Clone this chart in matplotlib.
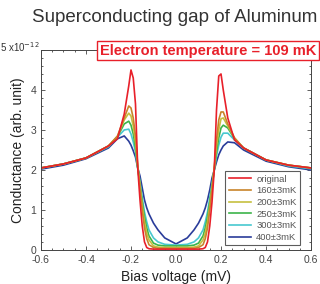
import matplotlib.pyplot as plt
from matplotlib.ticker import MultipleLocator
import numpy as np

plt.rcParams['font.family'] = ['Liberation Sans', 'DejaVu Sans']

# bias voltage (mV)
bias = [-0.6, -0.5, -0.4, -0.3, -0.26, -0.23, -0.21, -0.2, -0.19, -0.18, -0.17,
        -0.16, -0.15, -0.14, -0.13, -0.12, -0.1, -0.08, -0.05, 0.0,
        0.05, 0.08, 0.1, 0.12, 0.13, 0.14, 0.15, 0.16, 0.17, 0.18, 0.19,
        0.2, 0.21, 0.23, 0.26, 0.3, 0.4, 0.5, 0.6]

# conductance (x1e-12, arb. unit)
g_original = [2.05, 2.15, 2.3, 2.6, 2.78, 3.4, 4.1, 4.5, 4.3, 3.65, 2.05,
              1.25, 0.6, 0.2, 0.06, 0.03, 0.02, 0.02, 0.02, 0.02,
              0.02, 0.02, 0.02, 0.03, 0.06, 0.2, 0.6, 1.2, 2.0, 3.5, 4.35,
              4.4, 4.0, 3.3, 2.75, 2.55, 2.25, 2.12, 2.05]
g_160 = [2.05, 2.15, 2.3, 2.6, 2.85, 3.3, 3.6, 3.55, 3.3, 2.85, 2.1,
         1.55, 1.0, 0.55, 0.28, 0.13, 0.06, 0.04, 0.04, 0.04,
         0.04, 0.04, 0.06, 0.13, 0.28, 0.55, 1.0, 1.5, 2.05, 2.75, 3.25,
         3.45, 3.45, 3.15, 2.8, 2.55, 2.25, 2.12, 2.05]
g_200 = [2.05, 2.15, 2.3, 2.6, 2.84, 3.25, 3.42, 3.35, 3.1, 2.7, 2.1,
         1.6, 1.1, 0.7, 0.42, 0.25, 0.1, 0.07, 0.06, 0.06,
         0.06, 0.07, 0.1, 0.25, 0.42, 0.7, 1.1, 1.55, 2.05, 2.6, 3.0,
         3.28, 3.3, 3.1, 2.8, 2.55, 2.25, 2.12, 2.05]
g_250 = [2.05, 2.15, 2.3, 2.6, 2.83, 3.15, 3.22, 3.12, 2.9, 2.55, 2.05,
         1.65, 1.2, 0.82, 0.55, 0.35, 0.17, 0.12, 0.1, 0.1,
         0.1, 0.12, 0.17, 0.35, 0.55, 0.82, 1.2, 1.6, 2.0, 2.45, 2.8,
         3.05, 3.12, 3.05, 2.78, 2.55, 2.25, 2.12, 2.05]
g_300 = [2.05, 2.15, 2.3, 2.58, 2.82, 3.0, 3.02, 2.9, 2.7, 2.45, 2.05,
         1.7, 1.3, 0.95, 0.7, 0.5, 0.3, 0.2, 0.14, 0.12,
         0.14, 0.2, 0.3, 0.5, 0.7, 0.95, 1.3, 1.65, 2.0, 2.35, 2.62,
         2.82, 2.92, 2.92, 2.75, 2.55, 2.25, 2.1, 2.03]
g_400 = [2.02, 2.12, 2.28, 2.55, 2.78, 2.85, 2.72, 2.62, 2.48, 2.32, 2.05,
         1.85, 1.55, 1.25, 1.05, 0.9, 0.67, 0.5, 0.3, 0.15,
         0.3, 0.5, 0.67, 0.9, 1.05, 1.25, 1.5, 1.8, 2.0, 2.2, 2.38,
         2.5, 2.6, 2.7, 2.68, 2.5, 2.22, 2.08, 2.0]

labels = ['original', '160\u00b13mK', '200\u00b13mK', '250\u00b13mK', '300\u00b13mK', '400\u00b13mK']
series = [g_original, g_160, g_200, g_250, g_300, g_400]
colors = ['#e8202a', '#c8842a', '#c6c040', '#3cb44a', '#48c8d0', '#2a3c9a']

fig = plt.figure(figsize=(3.2, 2.84), dpi=100)
ax = fig.add_axes([0.128, 0.12, 0.844, 0.704])

handles = {}
# draw warmest first so the original curve sits on top
for lab, g, c in reversed(list(zip(labels, series, colors))):
    h, = ax.plot(bias, g, color=c, lw=1.2)
    handles[lab] = h

ax.set_xlim(-0.6, 0.6)
ax.set_ylim(0, 5)
ax.xaxis.set_major_locator(MultipleLocator(0.2))
ax.xaxis.set_minor_locator(MultipleLocator(0.05))
ax.yaxis.set_major_locator(MultipleLocator(1))
ax.yaxis.set_minor_locator(MultipleLocator(0.2))
ax.set_xticks(np.arange(-0.6, 0.61, 0.2))
ax.set_xticklabels(['-0.6', '-0.4', '-0.2', '0.0', '0.2', '0.4', '0.6'])
ax.set_yticks([0, 1, 2, 3, 4, 5])
ax.set_yticklabels(['0', '1', '2', '3', '4', ''])
ax.tick_params(which='both', direction='in', top=True, right=True,
               labelsize=7.5, labelcolor='#444444', color='#444444', width=0.6)
ax.tick_params(which='major', length=3)
ax.tick_params(which='minor', length=1.5)
for s in ax.spines.values():
    s.set_color('#444444')
    s.set_linewidth(0.7)

ax.set_xlabel('Bias voltage (mV)', fontsize=10, color='#222222', labelpad=4)
ax.set_ylabel('Conductance (arb. unit)', fontsize=10, color='#222222', labelpad=4)

leg = ax.legend([handles[l] for l in labels], labels, loc='lower right',
                bbox_to_anchor=(0.976, 0.0), fontsize=6.8, frameon=True,
                fancybox=False, edgecolor='#333333', handlelength=2.4,
                labelspacing=0.28, borderpad=0.35, handletextpad=0.5)
leg.get_frame().set_linewidth(0.8)
for t in leg.get_texts():
    t.set_color('#555555')

fig.text(0.0, 0.835, '5 x10$^{-12}$', fontsize=7, color='#333333', ha='left', va='center')
fig.text(0.545, 1 - 18 / 284, 'Superconducting gap of Aluminum', fontsize=13.5,
         color='#333333', ha='center', va='center')
fig.text(0.65, 0.822, 'Electron temperature = 109 mK', fontsize=10.5,
         fontweight='bold', color='#e8202a', ha='center', va='center', zorder=10,
         bbox=dict(boxstyle='square,pad=0.2', facecolor='white', edgecolor='#e8202a', lw=1))

fig.savefig('out.png', dpi=100)
